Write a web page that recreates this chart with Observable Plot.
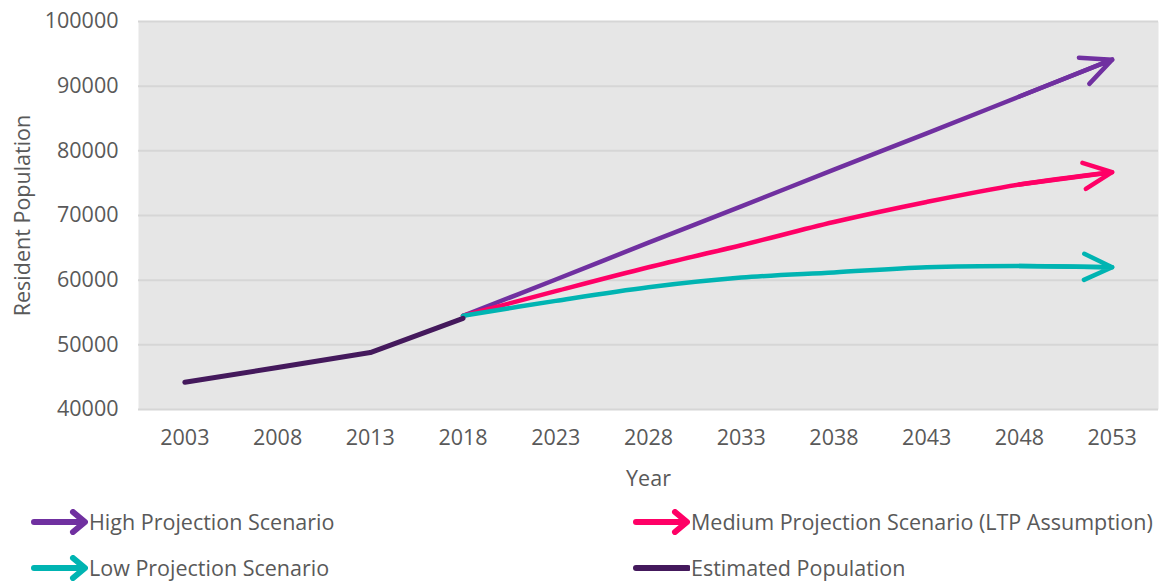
<!DOCTYPE html>
<html>
<head>
<meta charset="utf-8">
<script src="https://cdn.jsdelivr.net/npm/d3@7"></script>
<script src="https://cdn.jsdelivr.net/npm/@observablehq/plot@0.6"></script>
<style>
  html, body { margin: 0; padding: 0; background: #fff; }
  body { width: 1161px; height: 582px; overflow: hidden; font-family: "Open Sans", sans-serif; color: #595959; }
  #legend { position: relative; height: 92px; }
  .item { position: absolute; display: flex; align-items: center; font-size: 21.5px; color: #595959; white-space: nowrap; }
  .item svg { display: block; margin-right: 1px; }
</style>
</head>
<body>
<div id="chart"></div>
<div id="legend"></div>
<script>
const estYears = [2003, 2008, 2013, 2018];
const estimated = [44200, 46500, 48800, 54100];
const projYears = [2018, 2023, 2028, 2033, 2038, 2043, 2048, 2053];
const high = [54500, 60100, 65800, 71400, 77100, 82700, 88400, 94100];
const medium = [54500, 58300, 62000, 65400, 69000, 72100, 74800, 76700];
const low = [54500, 56800, 58900, 60400, 61200, 62000, 62200, 62000];
const xTicks = [2003, 2008, 2013, 2018, 2023, 2028, 2033, 2038, 2043, 2048, 2053];
const yTicks = [40000, 50000, 60000, 70000, 80000, 90000, 100000];
const seriesNames = ["High Projection Scenario", "Medium Projection Scenario (LTP Assumption)", "Low Projection Scenario", "Estimated Population"];
const colors = ["#7030a0", "#ff0066", "#00b4b2", "#44195c"];

const proj = [high, medium, low].map((vals, i) =>
  projYears.map((y, j) => ({year: y, value: vals[j], series: seriesNames[i], color: colors[i]})));
const est = estYears.map((y, j) => ({year: y, value: estimated[j]}));
const arrows = proj.map(s => {
  const a = s[s.length - 2], b = s[s.length - 1];
  return {x1: a.year, y1: a.value, x2: b.year, y2: b.value, color: a.color};
});

const plot = Plot.plot({
  width: 1161,
  height: 490,
  marginLeft: 138,
  marginRight: 3,
  marginTop: 21,
  marginBottom: 81,
  style: {fontFamily: "Open Sans, sans-serif", fontSize: "21.5px", color: "#595959", background: "transparent"},
  x: {domain: [2000.5, 2055.5]},
  y: {domain: [40000, 100000]},
  marks: [
    Plot.frame({fill: "#e6e6e6", stroke: "none"}),
    Plot.gridY(yTicks, {stroke: "#d6d6d6", strokeOpacity: 1, strokeWidth: 2}),
    ...proj.map(s => Plot.line(s, {x: "year", y: "value", stroke: d => d.color, strokeWidth: 4.5, curve: "catmull-rom", strokeLinecap: "round"})),
    Plot.arrow(arrows, {x1: "x1", y1: "y1", x2: "x2", y2: "y2", stroke: "color", strokeWidth: 4.5, headLength: 30, headAngle: 50, strokeLinecap: "round", strokeLinejoin: "round"}),
    Plot.line(est, {x: "year", y: "value", stroke: colors[3], strokeWidth: 5, strokeLinecap: "round"}),
    Plot.axisX({ticks: xTicks, tickFormat: d => String(d), tickSize: 0, tickPadding: 20, label: "Year", labelAnchor: "center", labelArrow: "none", labelOffset: 76, fill: "#595959"}),
    Plot.axisY({ticks: yTicks, tickFormat: d => String(d), tickSize: 0, tickPadding: 20, label: "Resident Population", labelAnchor: "center", labelArrow: "none", labelOffset: 124, fill: "#595959"})
  ],
  color: {type: "identity"}
});
document.getElementById("chart").appendChild(plot);

const legend = document.getElementById("legend");
const positions = [[30, 17], [632, 17], [30, 63], [632, 63]];
seriesNames.forEach((name, i) => {
  const div = document.createElement("div");
  div.className = "item";
  div.style.left = positions[i][0] + "px";
  div.style.top = positions[i][1] + "px";
  const c = colors[i];
  const head = i < 3 ? `<path d="M43,3 L55,13 L43,23" fill="none" stroke="${c}" stroke-width="6" stroke-linecap="round" stroke-linejoin="round"/>` : "";
  const len = i < 3 ? 53 : 56;
  div.innerHTML = `<svg width="58" height="26"><line x1="4" y1="13" x2="${len}" y2="13" stroke="${c}" stroke-width="6" stroke-linecap="round"/>${head}</svg><span>${name}</span>`;
  legend.appendChild(div);
});
</script>
</body>
</html>
